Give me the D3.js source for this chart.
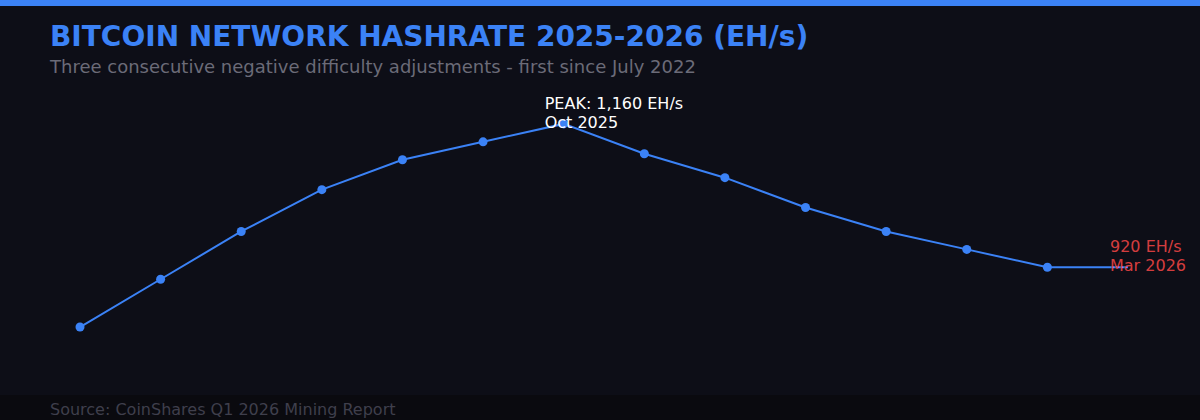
<!DOCTYPE html>
<html>
<head>
<meta charset="utf-8">
<script src="https://cdn.jsdelivr.net/npm/d3@7"></script>
<style>
    html, body { margin: 0; padding: 0; background: #0c0d16; }
    svg { display: block; font-family: "DejaVu Sans", sans-serif; }
</style>
</head>
<body>
<svg id="chart"></svg>
<script>
// Hashrate readings, Jan 2025 .. Mar 2026 (EH/s)
const periods = ['Jan 25', 'Feb 25', 'Mar 25', 'Apr 25', 'May 25', 'Jun 25', 'Oct 25',
    'Nov 25', 'Dec 25', 'Jan 26', 'Feb 26', 'Mar 26a', 'Mar 26b', 'Mar 26'];
const hashrate = [820, 900, 980, 1050, 1100, 1130, 1160, 1110, 1070, 1020, 980, 950, 920, 920];
const yDomain = [800, 1200];

const peakLabel = ['PEAK: 1,160 EH/s', 'Oct 2025'];
const endLabel = ['920 EH/s', 'Mar 2026'];

const width = 1200, height = 420;

const svg = d3.select('#chart')
    .attr('width', width)
    .attr('height', height);

// background + footer band
svg.append('rect')
    .attr('width', width)
    .attr('height', height)
    .attr('fill', '#0d0e17');

svg.append('rect')
    .attr('y', 395)
    .attr('width', width)
    .attr('height', 25)
    .attr('fill', '#0a0a0f');

// top accent bar
svg.append('rect')
    .attr('width', width)
    .attr('height', 6)
    .attr('fill', '#3b82f6');

svg.append('text')
    .attr('x', 50)
    .attr('y', 46)
    .attr('fill', '#3b82f6')
    .style('font-size', '28px')
    .style('font-weight', 'bold')
    .text('BITCOIN NETWORK HASHRATE 2025-2026 (EH/s)');

svg.append('text')
    .attr('x', 50)
    .attr('y', 73)
    .attr('fill', '#6b6b78')
    .style('font-size', '18px')
    .text('Three consecutive negative difficulty adjustments - first since July 2022');

svg.append('text')
    .attr('x', 50)
    .attr('y', 415)
    .attr('fill', '#3f3f4c')
    .style('font-size', '16px')
    .text('Source: CoinShares Q1 2026 Mining Report');

// scales
const x = d3.scalePoint()
    .domain(periods)
    .range([80, 1128]);

const y = d3.scaleLinear()
    .domain(yDomain)
    .range([339, 100]);

const line = d3.line()
    .x((d, i) => x(periods[i]))
    .y(d => y(d));

svg.append('path')
    .datum(hashrate)
    .attr('fill', 'none')
    .attr('stroke', '#3b82f6')
    .attr('stroke-width', 2)
    .attr('d', line);

// dots on every reading except the trailing one
svg.selectAll('.dot')
    .data(hashrate.slice(0, -1))
    .enter()
    .append('circle')
    .attr('class', 'dot')
    .attr('cx', (d, i) => x(periods[i]))
    .attr('cy', d => y(d))
    .attr('r', 4.5)
    .attr('fill', '#3b82f6');

// peak annotation
const peakIdx = hashrate.indexOf(d3.max(hashrate));
const peakText = svg.append('text')
    .attr('fill', '#ffffff')
    .style('font-size', '16px');
peakLabel.forEach((t, i) => {
    peakText.append('tspan')
        .attr('x', x(periods[peakIdx]) - 19)
        .attr('y', y(hashrate[peakIdx]) - 15 + i * 19)
        .text(t);
});

// latest annotation
const lastIdx = hashrate.length - 1;
const endText = svg.append('text')
    .attr('fill', '#ef4444')
    .attr('fill-opacity', 0.9)
    .style('font-size', '16px');
endLabel.forEach((t, i) => {
    endText.append('tspan')
        .attr('x', x(periods[lastIdx]) - 18)
        .attr('y', y(hashrate[lastIdx]) - 15 + i * 19)
        .text(t);
});
</script>
</body>
</html>
